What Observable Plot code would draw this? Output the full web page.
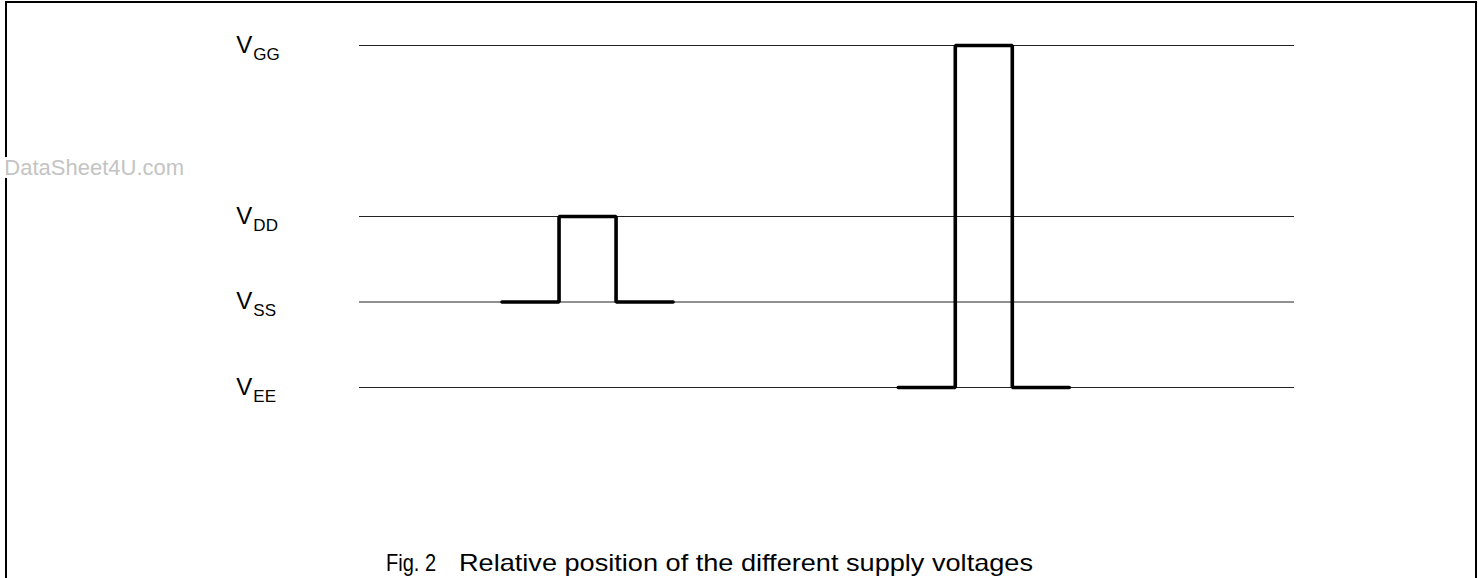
<!DOCTYPE html>
<html>
<head>
<meta charset="utf-8">
<script src="https://cdn.jsdelivr.net/npm/d3@7"></script>
<script src="https://cdn.jsdelivr.net/npm/@observablehq/plot@0.6"></script>
<style>
  html, body { margin: 0; padding: 0; background: #fff; width: 1479px; height: 578px; overflow: hidden; }
  #frame { position: absolute; left: 5px; top: 1px; width: 1472px; height: 600px; box-sizing: border-box;
           border: 2px solid #000; border-bottom: none; pointer-events: none; }
  #chart { position: absolute; left: 0; top: 0; }
  #caption { position: absolute; left: 0; top: 540px; }
</style>
</head>
<body>
<div id="frame"></div>
<div id="chart"></div>
<svg id="caption" width="1479" height="38"></svg>
<script>
// Supply levels (relative units)
const levelSubs = ["GG", "DD", "SS", "EE"];
const levelValues = [4, 2, 1, 0];
const levelLineStart = 0;
const levelLineEnd = 16.4;
const labelT = -2.16;

// Pulse 1: VSS -> VDD -> VSS
const pulse1T = [2.5, 3.5, 3.5, 4.5, 4.5, 5.5];
const pulse1V = [1, 1, 2, 2, 1, 1];
// Pulse 2: VEE -> VGG -> VEE
const pulse2T = [9.45, 10.45, 10.45, 11.45, 11.45, 12.45];
const pulse2V = [0, 0, 4, 4, 0, 0];

const watermarkText = "DataSheet4U.com";
const watermarkT = -6.23;
const watermarkV = 2.48;

const captionFig = "Fig. 2";
const captionText = "Relative position of the different supply voltages";

const levels = levelSubs.map((s, i) => ({sub: s, v: levelValues[i], x1: levelLineStart, x2: levelLineEnd, lx: labelT}));
const pulses = [
  ...pulse1T.map((t, i) => ({t, v: pulse1V[i], p: 1})),
  ...pulse2T.map((t, i) => ({t, v: pulse2V[i], p: 2}))
];

const plot = Plot.plot({
  width: 1479,
  height: 540,
  margin: 0,
  style: {fontFamily: "'Liberation Sans', Arial, sans-serif", background: "transparent", color: "#000"},
  x: {domain: [0, 16.4], range: [359, 1294], axis: null},
  y: {domain: [0, 4], range: [387, 45], axis: null},
  marks: [
    Plot.ruleY(levels, {y: "v", x1: "x1", x2: "x2", stroke: "#222", strokeWidth: 1}),
    Plot.line(pulses, {x: "t", y: "v", z: "p", stroke: "#000", strokeWidth: 3.6, strokeLinejoin: "miter", strokeLinecap: "round", curve: "linear"}),
    Plot.text(levels, {x: "lx", y: "v", text: () => "V", textAnchor: "start", lineAnchor: "bottom", dy: 7, fontSize: 24}),
    Plot.text(levels, {x: "lx", y: "v", text: "sub", textAnchor: "start", lineAnchor: "bottom", dx: 17, dy: 14, fontSize: 17}),
    Plot.text([{t: watermarkT, v: watermarkV}], {x: "t", y: "v", text: () => watermarkText, textAnchor: "start", lineAnchor: "bottom", fontSize: 22, fill: "#c4c4c4", stroke: "#fff", strokeWidth: 6})
  ]
});
document.getElementById("chart").appendChild(plot);

const cap = d3.select("#caption");
cap.append("text").attr("x", 386).attr("y", 31).attr("font-family", "'Liberation Sans', Arial, sans-serif")
  .attr("font-size", 24).attr("textLength", 50).attr("lengthAdjust", "spacingAndGlyphs").text(captionFig);
cap.append("text").attr("x", 459).attr("y", 31).attr("font-family", "'Liberation Sans', Arial, sans-serif")
  .attr("font-size", 24).attr("textLength", 574).attr("lengthAdjust", "spacingAndGlyphs").text(captionText);
</script>
</body>
</html>
